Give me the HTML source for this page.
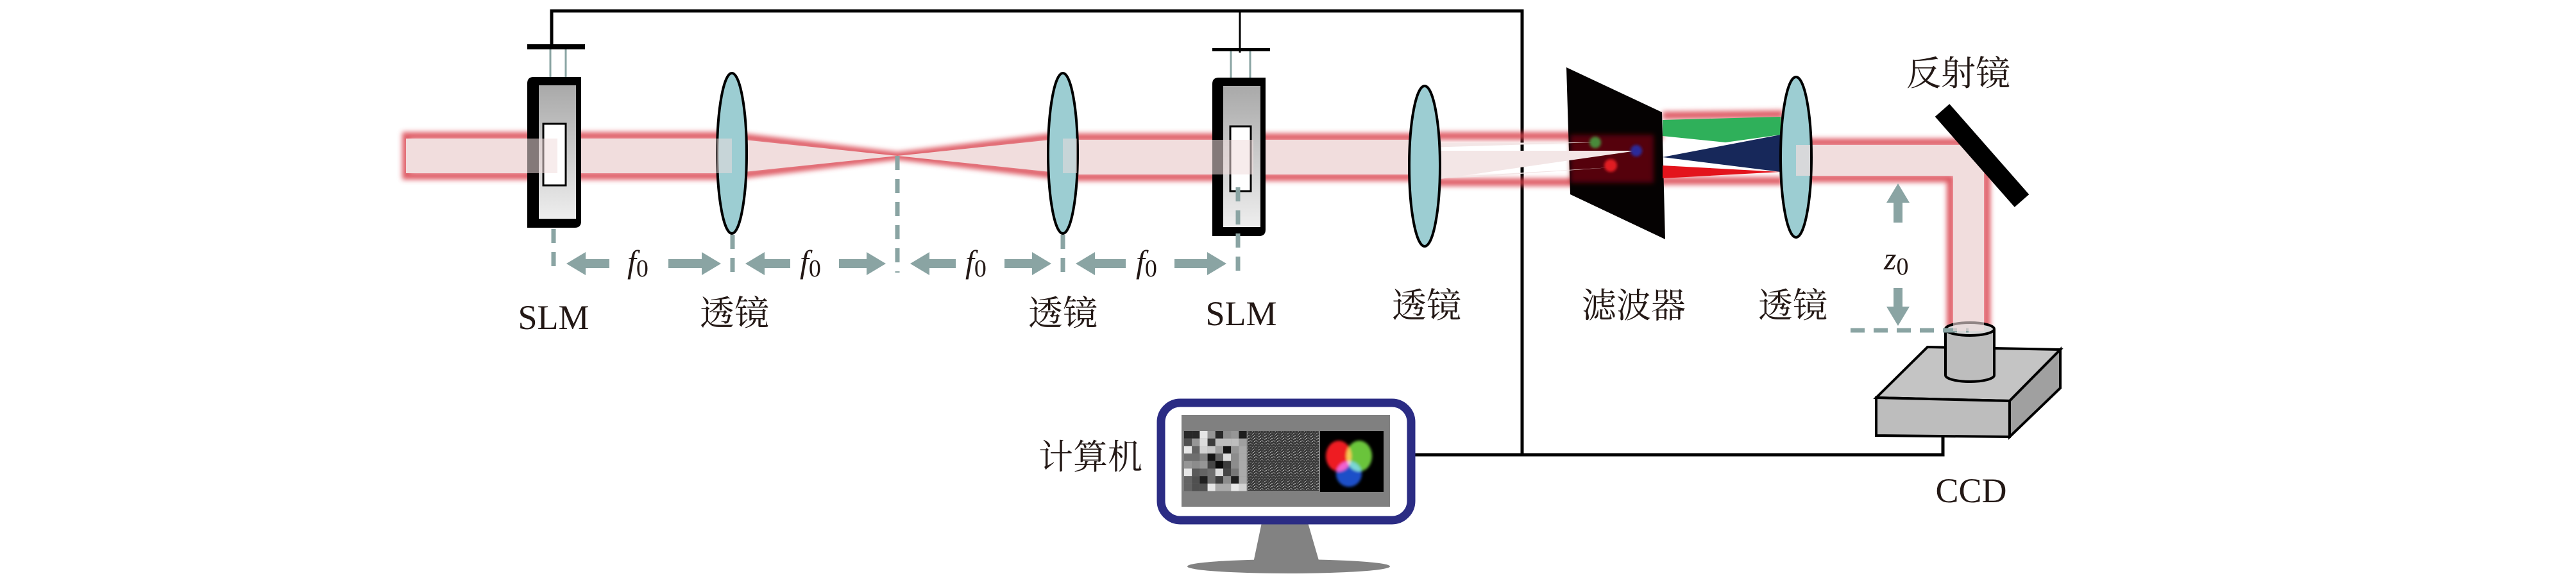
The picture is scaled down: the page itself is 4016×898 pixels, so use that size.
<!DOCTYPE html>
<html><head><meta charset="utf-8"><style>
html,body{margin:0;padding:0;background:#fff;}
svg{display:block;}
.t{font-family:"Liberation Serif","Noto Serif CJK SC","Noto Sans CJK SC",serif;fill:#231815;}
</style></head><body>
<svg width="4016" height="898" viewBox="0 0 4016 898" xmlns="http://www.w3.org/2000/svg">
<defs>
<filter id="blur" x="-20%" y="-50%" width="140%" height="200%"><feGaussianBlur stdDeviation="4"/></filter>
<filter id="blur2" x="-50%" y="-50%" width="200%" height="200%"><feGaussianBlur stdDeviation="2"/></filter>
<pattern id="nz" x="0" y="0" width="9" height="5" patternUnits="userSpaceOnUse">
<rect width="9" height="5" fill="#3a3a3a"/>
<rect x="0" y="0" width="2" height="1" fill="#999"/>
<rect x="4" y="1" width="3" height="1" fill="#777"/>
<rect x="2" y="3" width="2" height="1" fill="#aaa"/>
<rect x="6" y="3" width="2" height="1" fill="#666"/>
<rect x="8" y="2" width="1" height="1" fill="#888"/>
</pattern>
<linearGradient id="slm" x1="0" y1="0" x2="0" y2="1"><stop offset="0" stop-color="#a9a9a9"/><stop offset="1" stop-color="#eeeeee"/></linearGradient>
<marker id="ah" viewBox="0 -18 30 36" refX="0" refY="0" markerWidth="30" markerHeight="36" markerUnits="userSpaceOnUse" orient="auto"><path d="M0,-18 L30,0 L0,18 z" fill="#8aa4a3"/></marker>
</defs>

<!-- wires -->
<polyline points="860,70 860,17 2373,17 2373,709" fill="none" stroke="#000" stroke-width="5"/>
<line x1="1933" y1="17" x2="1933" y2="82" stroke="#000" stroke-width="3"/>
<polyline points="2202,709 3029,709 3029,681" fill="none" stroke="#000" stroke-width="5"/>

<!-- beam glow -->
<g filter="url(#blur)" fill="none" stroke="#d9404c" stroke-width="12" opacity="0.85">
<rect x="633" y="212" width="508" height="62"/>
<polyline points="1141,212 1399,243 1657,212"/>
<polyline points="1141,274 1399,243 1657,274"/>
<rect x="1657" y="214" width="564" height="62"/>
<polyline points="2221,212 2592,212"/>
<polyline points="2221,284 2592,284"/>
<polyline points="2592,180 2780,178"/>
<polyline points="2592,282 2780,282"/>
<polyline points="2800,222 3075,222 3097,250 3097,512"/>
<polyline points="2800,278 3041,278 3041,512"/>
</g>
<!-- beam fill -->
<g fill="#f1dddd">
<rect x="633" y="216" width="508" height="54"/>
<polygon points="1141,216 1399,243 1141,270"/>
<polygon points="1657,216 1399,243 1657,270"/>
<rect x="1657" y="218" width="564" height="54"/>
<rect x="2800" y="226" width="290" height="48"/>
<rect x="3045" y="226" width="48" height="286"/>
</g>
<!-- filter plane -->
<polygon points="2442,105 2591,175 2596,373 2448,303" fill="#050202"/>
<g filter="url(#blur)"><rect x="2448" y="210" width="130" height="75" fill="#8a0a10" opacity="0.6"/></g>
<polygon points="2225,223 2487,222 2225,230" fill="#f3e6e6"/>
<polygon points="2225,235 2551,235 2225,282" fill="#f3e6e6"/>
<polygon points="2225,278 2511,261 2300,276" fill="#f3e6e6"/>
<circle cx="2487" cy="222" r="9" fill="#4a8a3a" filter="url(#blur2)"/>
<circle cx="2551" cy="235" r="9" fill="#2a2a9a" filter="url(#blur2)"/>
<circle cx="2511" cy="258" r="10" fill="#e01a20" filter="url(#blur2)"/>
<!-- colored cones -->
<polygon points="2592,187 2776,182 2776,210 2690,222 2592,212" fill="#2fb05a"/>
<polygon points="2592,245 2776,210 2776,268" fill="#17285a"/>
<polygon points="2592,258 2776,268 2592,278" fill="#e3141c"/>

<!-- SLM 1 -->
<line x1="858" y1="77" x2="858" y2="120" stroke="#8aa4a3" stroke-width="3"/>
<line x1="882" y1="77" x2="882" y2="120" stroke="#8aa4a3" stroke-width="3"/>
<rect x="822" y="69" width="90" height="8" fill="#000"/>
<path d="M832,120 H906 V345 Q906,355 896,355 H822 V130 Q822,120 832,120 Z" fill="#000"/>
<rect x="840" y="133" width="58" height="208" fill="url(#slm)"/>
<rect x="847" y="193" width="35" height="96" fill="#fff" stroke="#000" stroke-width="3"/>
<rect x="633" y="216" width="236" height="54" fill="#f1dddd" opacity="0.55"/>
<!-- SLM 2 -->
<line x1="1919" y1="80" x2="1919" y2="122" stroke="#8aa4a3" stroke-width="3"/>
<line x1="1949" y1="80" x2="1949" y2="122" stroke="#8aa4a3" stroke-width="3"/>
<rect x="1890" y="75" width="90" height="5" fill="#000"/>
<path d="M1900,121 H1973 V358 Q1973,368 1963,368 H1890 V131 Q1890,121 1900,121 Z" fill="#000"/>
<rect x="1907" y="134" width="58" height="220" fill="url(#slm)"/>
<rect x="1918" y="197" width="32" height="101" fill="#fff" stroke="#000" stroke-width="3"/>
<rect x="1890" y="218" width="64" height="54" fill="#f1dddd" opacity="0.55"/>

<!-- lenses -->
<g fill="#9ccdd2" stroke="#000" stroke-width="4">
<ellipse cx="1141" cy="239" rx="23" ry="125"/>
<ellipse cx="1657" cy="239" rx="23" ry="125"/>
<ellipse cx="2221" cy="259" rx="24" ry="125"/>
<ellipse cx="2800" cy="245" rx="24" ry="125"/>
</g>
<rect x="1117" y="216" width="24" height="54" fill="#f1dddd" opacity="0.5"/>
<rect x="1657" y="216" width="22" height="54" fill="#f1dddd" opacity="0.5"/>
<rect x="2800" y="226" width="22" height="48" fill="#f1dddd" opacity="0.7"/>

<!-- mirror -->
<line x1="3028" y1="172" x2="3152" y2="313" stroke="#000" stroke-width="30"/>

<!-- CCD -->
<polygon points="2925,620 3005,541 3212,545 3133,625" fill="#c4c4c4" stroke="#000" stroke-width="4"/>
<polygon points="2925,620 3133,625 3133,681 2925,679" fill="#bdbdbd" stroke="#000" stroke-width="4"/>
<polygon points="3133,625 3212,545 3212,605 3133,681" fill="#a0a0a0" stroke="#000" stroke-width="4"/>
<path d="M3033,513 V585 A38,10 0 0 0 3109,585 V513" fill="#bdbdbd" stroke="#000" stroke-width="4"/>
<ellipse cx="3071" cy="513" rx="38" ry="10" fill="#d8d8d8" stroke="#000" stroke-width="4"/>
<line x1="2885" y1="515" x2="3069" y2="515" stroke="#8aa4a3" stroke-width="7" stroke-dasharray="22,14"/>
<rect x="3045" y="500" width="48" height="16" fill="#f1dddd" opacity="0.6"/>

<!-- dashed verticals -->
<g stroke="#8aa4a3" stroke-width="7" stroke-dasharray="22,14" fill="none">
<line x1="863" y1="357" x2="863" y2="425"/>
<line x1="1142" y1="366" x2="1142" y2="425"/>
<line x1="1399" y1="243" x2="1399" y2="425"/>
<line x1="1657" y1="366" x2="1657" y2="425"/>
<line x1="1930" y1="292" x2="1930" y2="435"/>
</g>
<!-- f0 arrows -->
<g stroke="#8aa4a3" stroke-width="14" marker-end="url(#ah)">
<line x1="950" y1="411" x2="913" y2="411"/>
<line x1="1042" y1="411" x2="1094" y2="411"/>
<line x1="1232" y1="411" x2="1192" y2="411"/>
<line x1="1308" y1="411" x2="1351" y2="411"/>
<line x1="1490" y1="411" x2="1449" y2="411"/>
<line x1="1566" y1="411" x2="1609" y2="411"/>
<line x1="1755" y1="411" x2="1707" y2="411"/>
<line x1="1831" y1="411" x2="1882" y2="411"/>
<line x1="2959" y1="347" x2="2959" y2="316"/>
<line x1="2959" y1="449" x2="2959" y2="478"/>
</g>
<g class="t" font-style="italic" font-size="50">
<text x="978" y="425">f<tspan font-style="normal" font-size="38" dy="6">0</tspan></text>
<text x="1247" y="425">f<tspan font-style="normal" font-size="38" dy="6">0</tspan></text>
<text x="1505" y="425">f<tspan font-style="normal" font-size="38" dy="6">0</tspan></text>
<text x="1771" y="425">f<tspan font-style="normal" font-size="38" dy="6">0</tspan></text>
<text x="2937" y="420">z<tspan font-style="normal" font-size="38" dy="8">0</tspan></text>
</g>

<!-- labels -->
<g class="t" font-size="54" text-anchor="middle">
<text x="863" y="513">SLM</text>
<text x="1145" y="507">透镜</text>
<text x="1657" y="507">透镜</text>
<text x="1935" y="507">SLM</text>
<text x="2224" y="495">透镜</text>
<text x="2547" y="495">滤波器</text>
<text x="2795" y="495">透镜</text>
<text x="3053" y="133">反射镜</text>
<text x="3073" y="783">CCD</text>
<text x="1700" y="731">计算机</text>
</g>

<!-- monitor -->
<polygon points="1967,815 2039,815 2057,877 1954,877" fill="#828282"/>
<ellipse cx="2009" cy="883" rx="158" ry="11" fill="#828282"/>
<rect x="1810" y="628" width="390" height="183" rx="30" fill="#fff" stroke="#2b2c84" stroke-width="13"/>
<rect x="1842" y="647" width="325" height="143" fill="#808080"/>
<g transform="translate(1846,672)">
<rect x="0" y="0" width="12.2" height="11.7" fill="rgb(40,40,40)"/><rect x="12.2" y="0" width="12.2" height="11.7" fill="rgb(40,40,40)"/><rect x="24.4" y="0" width="12.2" height="11.7" fill="rgb(230,230,230)"/><rect x="36.6" y="0" width="12.2" height="11.7" fill="rgb(150,150,150)"/><rect x="48.8" y="0" width="12.2" height="11.7" fill="rgb(40,40,40)"/><rect x="61" y="0" width="12.2" height="11.7" fill="rgb(140,140,140)"/><rect x="73.2" y="0" width="12.2" height="11.7" fill="rgb(150,150,150)"/><rect x="85.4" y="0" width="12.2" height="11.7" fill="rgb(30,30,30)"/>
<rect x="0" y="11.7" width="12.2" height="11.7" fill="rgb(80,80,80)"/><rect x="12.2" y="11.7" width="12.2" height="11.7" fill="rgb(150,150,150)"/><rect x="24.4" y="11.7" width="12.2" height="11.7" fill="rgb(220,220,220)"/><rect x="36.6" y="11.7" width="12.2" height="11.7" fill="rgb(60,60,60)"/><rect x="48.8" y="11.7" width="12.2" height="11.7" fill="rgb(190,190,190)"/><rect x="61" y="11.7" width="12.2" height="11.7" fill="rgb(190,190,190)"/><rect x="73.2" y="11.7" width="12.2" height="11.7" fill="rgb(190,190,190)"/><rect x="85.4" y="11.7" width="12.2" height="11.7" fill="rgb(160,160,160)"/>
<rect x="0" y="23.4" width="12.2" height="11.7" fill="rgb(230,230,230)"/><rect x="12.2" y="23.4" width="12.2" height="11.7" fill="rgb(100,100,100)"/><rect x="24.4" y="23.4" width="12.2" height="11.7" fill="rgb(210,210,210)"/><rect x="36.6" y="23.4" width="12.2" height="11.7" fill="rgb(200,200,200)"/><rect x="48.8" y="23.4" width="12.2" height="11.7" fill="rgb(160,160,160)"/><rect x="61" y="23.4" width="12.2" height="11.7" fill="rgb(20,20,20)"/><rect x="73.2" y="23.4" width="12.2" height="11.7" fill="rgb(150,150,150)"/><rect x="85.4" y="23.4" width="12.2" height="11.7" fill="rgb(170,170,170)"/>
<rect x="0" y="35.1" width="12.2" height="11.7" fill="rgb(110,110,110)"/><rect x="12.2" y="35.1" width="12.2" height="11.7" fill="rgb(110,110,110)"/><rect x="24.4" y="35.1" width="12.2" height="11.7" fill="rgb(130,130,130)"/><rect x="36.6" y="35.1" width="12.2" height="11.7" fill="rgb(20,20,20)"/><rect x="48.8" y="35.1" width="12.2" height="11.7" fill="rgb(100,100,100)"/><rect x="61" y="35.1" width="12.2" height="11.7" fill="rgb(220,220,220)"/><rect x="73.2" y="35.1" width="12.2" height="11.7" fill="rgb(140,140,140)"/><rect x="85.4" y="35.1" width="12.2" height="11.7" fill="rgb(170,170,170)"/>
<rect x="0" y="46.8" width="12.2" height="11.7" fill="rgb(150,150,150)"/><rect x="12.2" y="46.8" width="12.2" height="11.7" fill="rgb(140,140,140)"/><rect x="24.4" y="46.8" width="12.2" height="11.7" fill="rgb(150,150,150)"/><rect x="36.6" y="46.8" width="12.2" height="11.7" fill="rgb(70,70,70)"/><rect x="48.8" y="46.8" width="12.2" height="11.7" fill="rgb(10,10,10)"/><rect x="61" y="46.8" width="12.2" height="11.7" fill="rgb(60,60,60)"/><rect x="73.2" y="46.8" width="12.2" height="11.7" fill="rgb(140,140,140)"/><rect x="85.4" y="46.8" width="12.2" height="11.7" fill="rgb(170,170,170)"/>
<rect x="0" y="58.5" width="12.2" height="11.7" fill="rgb(230,230,230)"/><rect x="12.2" y="58.5" width="12.2" height="11.7" fill="rgb(90,90,90)"/><rect x="24.4" y="58.5" width="12.2" height="11.7" fill="rgb(100,100,100)"/><rect x="36.6" y="58.5" width="12.2" height="11.7" fill="rgb(110,110,110)"/><rect x="48.8" y="58.5" width="12.2" height="11.7" fill="rgb(220,220,220)"/><rect x="61" y="58.5" width="12.2" height="11.7" fill="rgb(70,70,70)"/><rect x="73.2" y="58.5" width="12.2" height="11.7" fill="rgb(120,120,120)"/><rect x="85.4" y="58.5" width="12.2" height="11.7" fill="rgb(170,170,170)"/>
<rect x="0" y="70.2" width="12.2" height="11.7" fill="rgb(100,100,100)"/><rect x="12.2" y="70.2" width="12.2" height="11.7" fill="rgb(80,80,80)"/><rect x="24.4" y="70.2" width="12.2" height="11.7" fill="rgb(30,30,30)"/><rect x="36.6" y="70.2" width="12.2" height="11.7" fill="rgb(110,110,110)"/><rect x="48.8" y="70.2" width="12.2" height="11.7" fill="rgb(60,60,60)"/><rect x="61" y="70.2" width="12.2" height="11.7" fill="rgb(140,140,140)"/><rect x="73.2" y="70.2" width="12.2" height="11.7" fill="rgb(30,30,30)"/><rect x="85.4" y="70.2" width="12.2" height="11.7" fill="rgb(170,170,170)"/>
<rect x="0" y="81.9" width="12.2" height="11.7" fill="rgb(100,100,100)"/><rect x="12.2" y="81.9" width="12.2" height="11.7" fill="rgb(80,80,80)"/><rect x="24.4" y="81.9" width="12.2" height="11.7" fill="rgb(80,80,80)"/><rect x="36.6" y="81.9" width="12.2" height="11.7" fill="rgb(230,230,230)"/><rect x="48.8" y="81.9" width="12.2" height="11.7" fill="rgb(170,170,170)"/><rect x="61" y="81.9" width="12.2" height="11.7" fill="rgb(170,170,170)"/><rect x="73.2" y="81.9" width="12.2" height="11.7" fill="rgb(230,230,230)"/><rect x="85.4" y="81.9" width="12.2" height="11.7" fill="rgb(210,210,210)"/>
</g>
<rect x="1945" y="672" width="111" height="93" fill="url(#nz)"/>
<rect x="2058" y="672" width="99" height="95" fill="#000"/>
<g filter="url(#blur2)">
<ellipse cx="2087" cy="711" rx="20" ry="24" fill="#ee1c24"/>
<ellipse cx="2119" cy="711" rx="20" ry="24" fill="#6bc43a" style="mix-blend-mode:screen"/>
<ellipse cx="2103" cy="739" rx="20" ry="20" fill="#1a4fc8" style="mix-blend-mode:screen"/>
</g>
</svg>
</body></html>
